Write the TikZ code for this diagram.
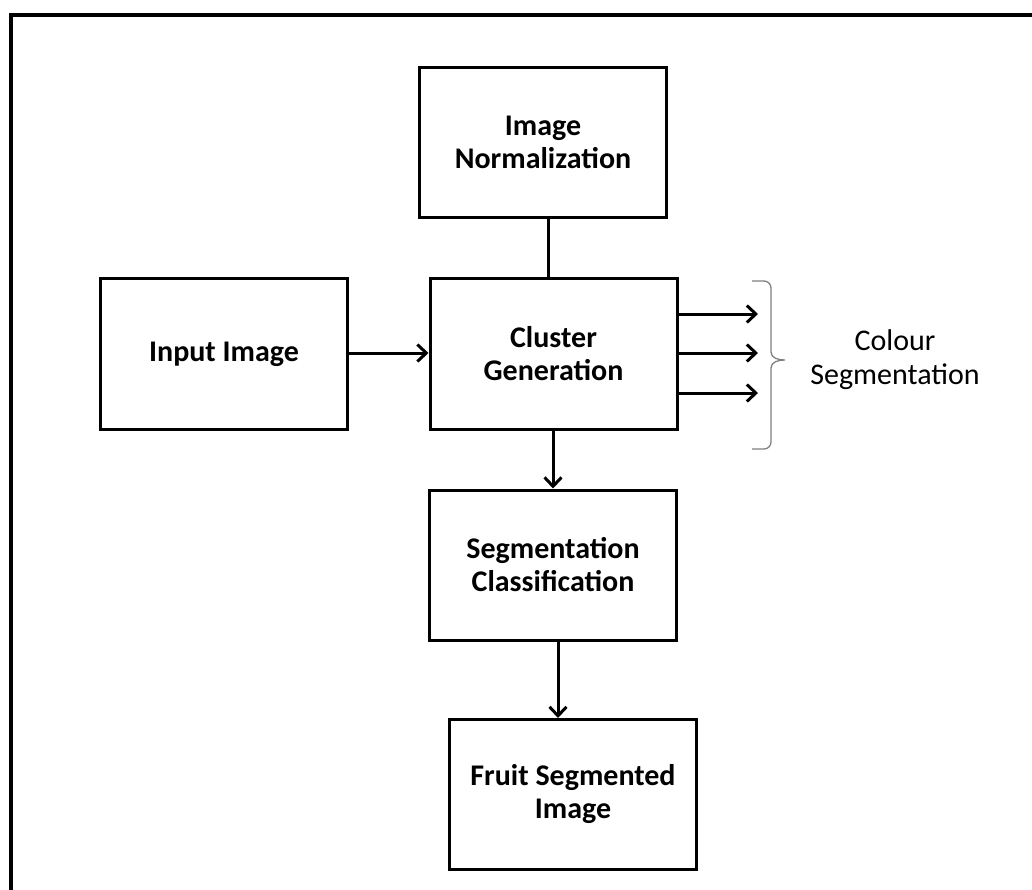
\documentclass[tikz,border=0pt]{standalone}
\usepackage{fontspec}
\setmainfont{Carlito}
\usetikzlibrary{arrows.meta}
\newcommand{\FB}{\fontsize{30}{33}\selectfont\bfseries}
\newcommand{\FN}{\fontsize{30}{34}\selectfont}

\begin{document}
\begin{tikzpicture}[x=1pt,y=-1pt]
\tikzstyle{block}=[draw=black,line width=3pt,minimum width=247pt,minimum height=150pt,align=center,font=\FB,inner sep=2pt]
\tikzstyle{line}=[black,line width=3pt]
\tikzstyle{arrow}=[line,-{Straight Barb[length=9pt,width=17pt,line width=3pt]}]
\tikzstyle{brace}=[gray,line width=1.3pt]

\useasboundingbox (0,0) rectangle (1032,890);
\draw[line width=3.5pt] (11,900) -- (11,15) -- (1040,15);

\node[block] (norm)    at (543,142.5) {Image\\Normalization};
\node[block] (input)   at (224,354)   {Input Image};
\node[block] (cluster) at (553.5,354) {Cluster\\Generation};
\node[block] (seg)     at (553,565)   {Segmentation\\Classification};
\node[block] (fruit)   at (573,794.5) {Fruit Segmented\\Image};

\coordinate (out1) at (758,314);
\coordinate (out2) at (758,353);
\coordinate (out3) at (758,393);

\draw[line]  (norm.south -| 548,0) -- (cluster.north -| 548,0);
\draw[arrow] (input.east |- 0,353) -- (cluster.west |- 0,353);
\draw[arrow] (cluster.south -| 553,0) -- (seg.north -| 553,0);
\draw[arrow] (seg.south -| 558,0) -- (fruit.north -| 558,0);

\draw[arrow] (cluster.east |- out1) -- (out1);
\draw[arrow] (cluster.east |- out2) -- (out2);
\draw[arrow] (cluster.east |- out3) -- (out3);

% curly bracket
\draw[brace] (752,281) -- (764,281) to[out=0,in=90] (771,288) -- (771,352)
  to[out=-90,in=180] (785,360) to[out=180,in=90] (771,368) -- (771,442)
  to[out=-90,in=0] (764,449) -- (752,449);
\node[font=\FN,align=center] (colseg) at (895,360) {Colour\\Segmentation};
\end{tikzpicture}
\end{document}
